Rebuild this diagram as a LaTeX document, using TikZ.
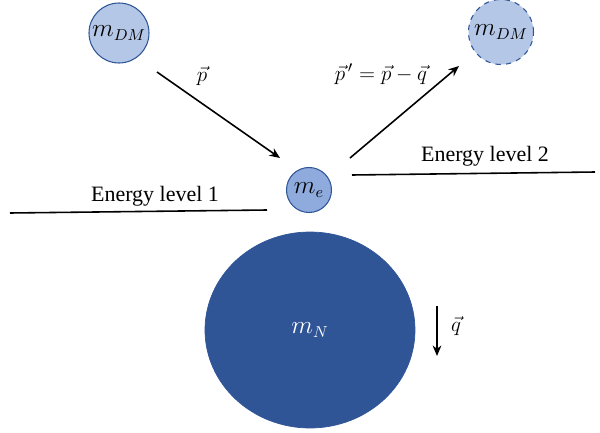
\documentclass[tikz,border=0pt]{standalone}
\usepackage{fontspec}
\setmainfont{Liberation Serif}
\usepackage{xcolor}
\usetikzlibrary{arrows.meta, shapes.geometric}

\definecolor{dmfill}{HTML}{B4C7E7}
\definecolor{efill}{HTML}{8FAADC}
\definecolor{nfill}{HTML}{2F5597}

\begin{document}
\begin{tikzpicture}[
  x=0.02cm, y=-0.02cm,
  particle/.style={circle, draw=nfill, line width=0.6pt, inner sep=0pt,
                   font=\fontsize{13.5}{15}\selectfont},
  arr/.style={-{Stealth[length=6pt, width=5pt]}, line width=0.9pt},
  level/.style={line width=0.9pt},
  lbl/.style={font=\fontsize{12.5}{15}\selectfont, inner sep=1pt}
]
\useasboundingbox (0,0) rectangle (600,433);

% particles
\node[particle, fill=dmfill, minimum size=60*0.02cm] (dmin) at (119,33) {$m_{DM}$};
\node[particle, fill=dmfill, dashed, minimum size=65*0.02cm] (dmout) at (501,32) {$m_{DM}$};
\node[particle, fill=efill, minimum size=45*0.02cm] (elec) at (309,190) {$m_{e}$};
\node[ellipse, fill=nfill, draw=nfill, minimum width=210*0.02cm, minimum height=196*0.02cm,
      font=\fontsize{13.5}{15}\selectfont, text=white] (nucl) at (310,330) {$m_{N}$};

% energy levels
\coordinate (lvlAa) at (10,213);
\coordinate (lvlAb) at (267,210);
\coordinate (lvlBa) at (352,175);
\coordinate (lvlBb) at (595,172);
\draw[level] (lvlAa) -- (lvlAb);
\draw[level] (lvlBa) -- (lvlBb);
\node[lbl] (lvlA) at (155,196) {Energy level 1};
\node[lbl] (lvlB) at (485,156) {Energy level 2};

% momenta
\coordinate (pin0) at (157,72);
\coordinate (pin1) at (280,158);
\coordinate (pout0) at (350,158);
\coordinate (pout1) at (459,66);
\coordinate (q0) at (437,306);
\coordinate (q1) at (437,356);
\draw[arr] (pin0) -- (pin1);
\draw[arr] (pout0) -- (pout1);
\draw[arr] (q0) -- (q1);
\node[lbl] (plab) at (202,76) {$\vec{p}$};
\node[lbl] (pplab) at (381,74) {$\vec{p}^{\,\prime} = \vec{p} - \vec{q}$};
\node[lbl] (qlab) at (456,326) {$\vec{q}$};

\end{tikzpicture}
\end{document}
